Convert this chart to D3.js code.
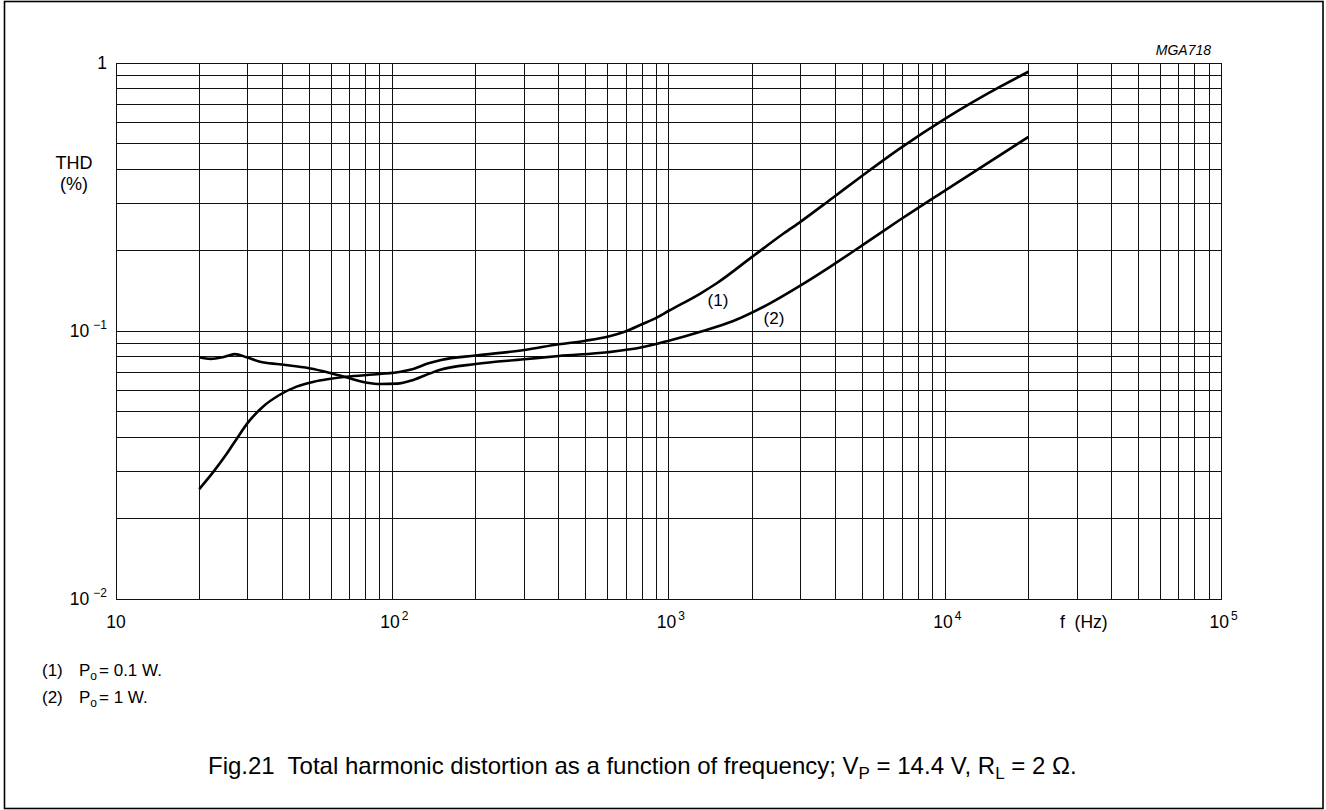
<!DOCTYPE html>
<html lang="en">
<head>
    <meta charset="UTF-8">
    <title>THD vs frequency</title>
    <style>
        body { margin: 0; background: #fff; }
        svg { display: block; font-family: "Liberation Sans", Arial, sans-serif; }
    </style>
</head>
<body>

    <div id="root"></div>

    <script src="https://d3js.org/d3.v7.min.js"></script>

    <script>

    // values (f in Hz, THD in %)
    const freq1 = [20, 22.5, 25, 27.5, 30, 34, 39, 45, 52, 59, 68, 90, 107, 119, 135, 150, 200, 300, 400, 500, 600, 700, 800, 900, 1000, 1300, 1490, 2000, 2600, 3000, 3900, 5050, 6860, 10000, 15800, 20000]
    const thd1  = [0.0257, 0.0298, 0.0345, 0.04, 0.0455, 0.0522, 0.0577, 0.062, 0.0647, 0.0662, 0.0675, 0.0691, 0.0705, 0.0722, 0.0758, 0.078, 0.081, 0.0849, 0.0892, 0.092, 0.0952, 0.0998, 0.106, 0.112, 0.119, 0.138, 0.1507, 0.189, 0.231, 0.256, 0.313, 0.382, 0.48, 0.62, 0.816, 0.928]

    const freq2 = [20, 22, 24.5, 26.9, 29.7, 33.2, 39, 50, 59, 68, 81, 90, 104, 119, 137, 148, 200, 300, 400, 600, 800, 1000, 1300, 1710, 2260, 3030, 3940, 5050, 6860, 10000, 20000]
    const thd2  = [0.0798, 0.0787, 0.08, 0.082, 0.0798, 0.0768, 0.0751, 0.0726, 0.0699, 0.0672, 0.0641, 0.0634, 0.0636, 0.0657, 0.0695, 0.0715, 0.0753, 0.0784, 0.0807, 0.0833, 0.0869, 0.092, 0.0994, 0.109, 0.125, 0.149, 0.177, 0.21, 0.26, 0.335, 0.53]

    const xTickValues = [10, 100, 1000, 10000, 100000]
    const xTickExp = ["", "2", "3", "4", "5"]
    const yTickValues = [1, 0.1, 0.01]
    const yTickExp = ["", "\u22121", "\u22122"]

    const legendKeys = ["(1)", "(2)"]
    const legendPower = ["0.1 W.", "1 W."]

    const W = 1326, H = 810
    const plot = {left: 116, right: 1221.7, top: 63, bottom: 599}

    const svg = d3.select("#root").append("svg")
      .attr("width", W)
      .attr("height", H)

    // outer frame
    svg.append("rect")
      .attr("x", 4.5).attr("y", 1.5)
      .attr("width", 1318.5).attr("height", 807)
      .attr("fill", "none")
      .attr("stroke", "#000")
      .attr("stroke-width", 1.6)

    const xScale = d3.scaleLog()
      .domain([10, 1e5])
      .range([plot.left, plot.right])

    const yScale = d3.scaleLog()
      .domain([0.01, 1])
      .range([plot.bottom, plot.top])

    // grid (log ticks give every 1..9 multiple)
    const grid = svg.append("g")
      .attr("stroke", "#111")
      .attr("stroke-width", 1)
      .attr("shape-rendering", "crispEdges")

    grid.selectAll(".vx").data(xScale.ticks())
      .join("line")
      .attr("x1", d => xScale(d)).attr("x2", d => xScale(d))
      .attr("y1", plot.top).attr("y2", plot.bottom)

    grid.selectAll(".hy").data(yScale.ticks())
      .join("line")
      .attr("x1", plot.left).attr("x2", plot.right)
      .attr("y1", d => yScale(d)).attr("y2", d => yScale(d))

    // curves
    const line = d3.line()
      .x(d => xScale(d[0]))
      .y(d => yScale(d[1]))
      .curve(d3.curveMonotoneX)

    const series = [d3.zip(freq1, thd1), d3.zip(freq2, thd2)]

    svg.selectAll(".curve").data(series)
      .join("path")
      .attr("d", line)
      .attr("fill", "none")
      .attr("stroke", "#000")
      .attr("stroke-width", 2.6)
      .attr("stroke-linejoin", "round")

    // curve labels
    svg.append("text").attr("x", 718).attr("y", 306)
      .attr("text-anchor", "middle").attr("font-size", 17).text("(1)")
    svg.append("text").attr("x", 774).attr("y", 324)
      .attr("text-anchor", "middle").attr("font-size", 17).text("(2)")

    // x tick labels
    const xl = svg.selectAll(".xl").data(xTickValues)
      .join("text")
      .attr("x", (d, i) => xScale(d) + (xTickExp[i] ? 2 : 0))
      .attr("y", 628)
      .attr("text-anchor", "middle")
      .attr("font-size", 17.5)
    xl.append("tspan").text("10")
    xl.append("tspan")
      .attr("font-size", 12)
      .attr("dx", 2)
      .attr("dy", -8)
      .text((d, i) => xTickExp[i])

    svg.append("text")
      .attr("x", 1060).attr("y", 628)
      .attr("font-size", 17.5)
      .attr("xml:space", "preserve")
      .text("f  (Hz)")

    // y tick labels
    const yl = svg.selectAll(".yl").data(yTickValues)
      .join("text")
      .attr("x", 107)
      .attr("y", d => yScale(d) + 6)
      .attr("text-anchor", "end")
      .attr("font-size", 17.5)
    yl.append("tspan").text((d, i) => yTickExp[i] ? "10" : "1")
    yl.append("tspan")
      .attr("font-size", 12)
      .attr("dx", 4)
      .attr("dy", -8)
      .text((d, i) => yTickExp[i])

    svg.append("text")
      .attr("x", 74).attr("y", 169)
      .attr("text-anchor", "middle").attr("font-size", 18)
      .text("THD")
    svg.append("text")
      .attr("x", 74).attr("y", 190)
      .attr("text-anchor", "middle").attr("font-size", 18)
      .text("(%)")

    svg.append("text")
      .attr("x", 1211).attr("y", 55)
      .attr("text-anchor", "end")
      .attr("font-size", 14)
      .attr("font-style", "italic")
      .text("MGA718")

    // legend
    legendKeys.forEach((k, i) => {
      const y = 676 + i * 27
      svg.append("text").attr("x", 42).attr("y", y)
        .attr("font-size", 17).text(k)
      const t = svg.append("text").attr("x", 79).attr("y", y)
        .attr("font-size", 17)
      t.append("tspan").text("P")
      t.append("tspan").attr("font-size", 12).attr("dy", 4).text("o")
      t.append("tspan").attr("dy", -4).attr("dx", 2).text("= " + legendPower[i])
    })

    // caption
    const cap = svg.append("text")
      .attr("x", 208).attr("y", 774)
      .attr("font-size", 24)
      .attr("xml:space", "preserve")
    cap.append("tspan").text("Fig.21  Total harmonic distortion as a function of frequency; V")
    cap.append("tspan").attr("font-size", 17).attr("dy", 5).text("P")
    cap.append("tspan").attr("dy", -5).text(" = 14.4 V, R")
    cap.append("tspan").attr("font-size", 17).attr("dy", 5).text("L")
    cap.append("tspan").attr("dy", -5).text(" = 2 \u03A9.")

    </script>
</body>
</html>
